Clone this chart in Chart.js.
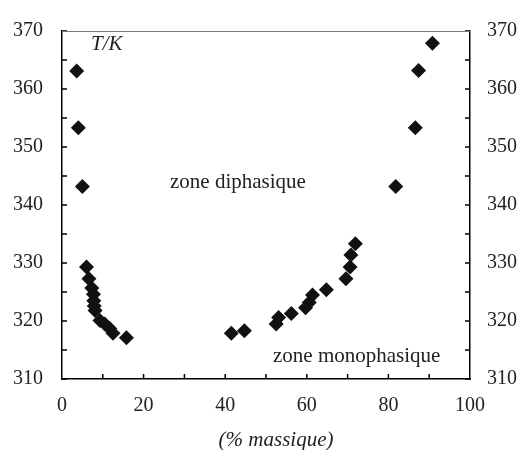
<!DOCTYPE html>
<html>
<head>
<meta charset="utf-8">
<script src="https://cdn.jsdelivr.net/npm/chart.js@4/dist/chart.umd.min.js"></script>
<style>
  html, body { margin: 0; padding: 0; background: #fff; }
  #wrap { width: 531px; height: 450px; }
</style>
</head>
<body>
<div id="wrap"><canvas id="chart1"></canvas></div>
<script>
// mass % and temperature (K)
const massPct = [3.6, 4.0, 5.0, 6.0, 6.6, 7.3, 7.7, 7.8, 7.9, 8.1, 9.3, 10.5, 11.7, 12.5, 15.8,
                 41.5, 44.7, 52.5, 53.1, 56.2, 59.7, 60.6, 61.4, 64.8, 69.6, 70.6, 70.8, 71.9,
                 81.8, 86.6, 87.4, 90.8];
const tempK = [363.1, 353.3, 343.2, 329.3, 327.3, 325.7, 324.6, 323.5, 322.6, 321.8, 320.1, 319.5, 318.7, 317.9, 317.1,
               317.9, 318.3, 319.5, 320.6, 321.3, 322.3, 323.2, 324.5, 325.4, 327.3, 329.3, 331.4, 333.3,
               343.2, 353.3, 363.2, 367.9];
const xTicks = [0, 20, 40, 60, 80, 100];
const yTicks = [310, 320, 330, 340, 350, 360, 370];

const serif = "'Liberation Serif', 'Times New Roman', serif";

// inward tick marks, top frame line and the text labels
const decorations = {
  id: 'decorations',
  afterDraw(chart) {
    const { ctx, chartArea: a, scales } = chart;
    ctx.save();
    ctx.strokeStyle = '#000';
    ctx.lineWidth = 1.5;
    ctx.beginPath();
    for (let v = 310; v <= 370; v += 5) {
      const y = scales.y.getPixelForValue(v);
      ctx.moveTo(a.left, y); ctx.lineTo(a.left + 5, y);
      ctx.moveTo(a.right, y); ctx.lineTo(a.right - 5, y);
    }
    for (let v = 10; v < 100; v += 10) {
      const x = scales.x.getPixelForValue(v);
      ctx.moveTo(x, a.bottom); ctx.lineTo(x, a.bottom - 5);
    }
    ctx.stroke();

    ctx.strokeStyle = '#777';
    ctx.lineWidth = 1;
    ctx.beginPath();
    ctx.moveTo(a.left, a.top + 0.5); ctx.lineTo(a.right, a.top + 0.5);
    ctx.stroke();

    ctx.fillStyle = '#222';
    ctx.textBaseline = 'alphabetic';
    ctx.textAlign = 'left';
    ctx.font = 'italic 21px ' + serif;
    ctx.fillText('T/K', 91, 50);
    ctx.font = '21px ' + serif;
    ctx.fillText('zone diphasique', 170, 188);
    ctx.fillText('zone monophasique', 273, 362);
    ctx.textAlign = 'center';
    ctx.font = 'italic 21px ' + serif;
    ctx.fillText('(% massique)', 276, 446);
    ctx.restore();
  }
};

document.addEventListener('DOMContentLoaded', function () {
  const ctx = document.getElementById('chart1').getContext('2d');
  new Chart(ctx, {
    type: 'scatter',
    data: {
      datasets: [{
        data: massPct.map((x, i) => ({ x, y: tempK[i] })),
        pointStyle: 'rectRot',
        pointRadius: 7.5,
        backgroundColor: '#111',
        borderWidth: 0
      }]
    },
    options: {
      responsive: true,
      maintainAspectRatio: false,
      animation: false,
      layout: { padding: { top: 19, left: 0, right: 0, bottom: 0 } },
      plugins: { legend: { display: false }, tooltip: { enabled: false } },
      scales: {
        x: {
          type: 'linear',
          min: 0, max: 100,
          afterFit: s => { s.height = 71; },
          afterBuildTicks: s => { s.ticks = xTicks.map(v => ({ value: v })); },
          grid: { display: false, drawTicks: false },
          border: { color: '#000', width: 1.5 },
          ticks: { color: '#222', padding: 15, maxRotation: 0, autoSkip: false, font: { family: serif, size: 20 } }
        },
        y: {
          type: 'linear',
          position: 'left',
          min: 310, max: 370,
          afterFit: s => { s.width = 62; },
          afterBuildTicks: s => { s.ticks = yTicks.map(v => ({ value: v })); },
          grid: { display: false, drawTicks: false },
          border: { color: '#000', width: 1.5 },
          ticks: { color: '#222', padding: 19, font: { family: serif, size: 20 } }
        },
        y2: {
          type: 'linear',
          position: 'right',
          min: 310, max: 370,
          afterFit: s => { s.width = 61; },
          afterBuildTicks: s => { s.ticks = yTicks.map(v => ({ value: v })); },
          grid: { display: false, drawTicks: false },
          border: { color: '#000', width: 1.5 },
          ticks: { color: '#222', padding: 17, font: { family: serif, size: 20 } }
        }
      }
    },
    plugins: [decorations]
  });
});
</script>
</body>
</html>
